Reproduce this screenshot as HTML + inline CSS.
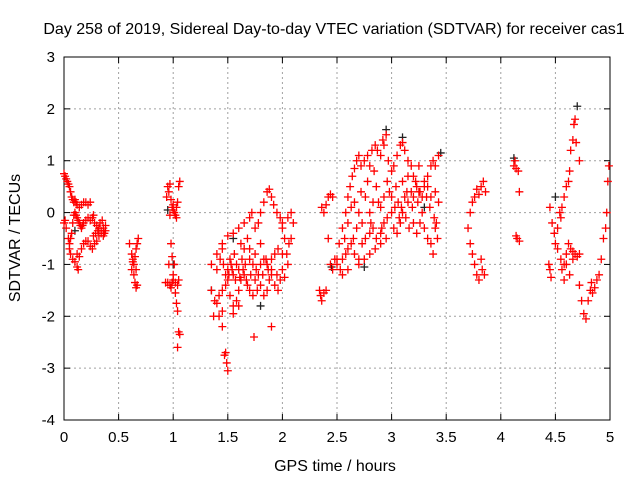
<!DOCTYPE html>
<html><head><meta charset="utf-8"><style>
body{margin:0;background:#fff;}
svg{display:block;font-family:"Liberation Sans",sans-serif;}
</style></head><body>
<svg id="chart" width="640" height="480" viewBox="0 0 640 480" xmlns="http://www.w3.org/2000/svg">
<rect width="640" height="480" fill="#fff"/>
<text x="334" y="34" font-size="16" text-anchor="middle">Day 258 of 2019, Sidereal Day-to-day VTEC variation (SDTVAR) for receiver cas1</text>
<g id="grid"></g>
<g id="axes"></g>
<g id="marks"></g>
<text x="335" y="471" font-size="16" text-anchor="middle">GPS time / hours</text>
<text transform="translate(20,238) rotate(-90)" font-size="16" text-anchor="middle">SDTVAR / TECUs</text>
</svg>
<script>
const xTicks=[0,0.5,1,1.5,2,2.5,3,3.5,4,4.5,5];
const xTickLabels=["0","0.5","1","1.5","2","2.5","3","3.5","4","4.5","5"];
const yTicks=[-4,-3,-2,-1,0,1,2,3];
const yTickLabels=["-4","-3","-2","-1","0","1","2","3"];
const seriesRed=[
[0,0.75],[0.01,0.7],[0.02,0.65],[0.03,0.6],[0.04,0.55],[0.05,0.5],[0.06,0.4],[0.07,0.3],[0.08,0.25],[0.09,0.2],[0.1,0.25],[0.11,0.2],[0.12,0.15],[0.14,0.1],[0.16,0.15],[0.18,0.2],[0.2,0.2],[0.22,0.15],[0.24,0.2],
[0.0,-0.2],[0.01,-0.15],[0.02,-0.3],[0.04,-0.5],[0.05,-0.6],[0.06,-0.5],[0.07,-0.4],[0.08,-0.2],[0.09,-0.05],[0.1,0.0],[0.11,-0.05],[0.12,-0.1],[0.13,-0.15],[0.14,-0.2],[0.15,-0.25],[0.16,-0.3],[0.17,-0.25],[0.18,-0.2],[0.2,-0.15],[0.22,-0.1],[0.24,-0.15],[0.26,-0.1],[0.27,-0.05],[0.28,-0.2],[0.3,-0.25],[0.32,-0.3],[0.34,-0.35],[0.36,-0.3],[0.38,-0.25],
[0.05,-0.7],[0.06,-0.8],[0.08,-0.9],[0.1,-0.95],[0.12,-1.05],[0.14,-0.85],[0.16,-0.7],[0.18,-0.6],[0.2,-0.55],[0.22,-0.55],[0.24,-0.65],[0.26,-0.7],[0.28,-0.6],[0.3,-0.55],[0.32,-0.45],[0.34,-0.4],[0.36,-0.45],[0.38,-0.35],[0.12,-0.8],[0.13,-1.1],
[0.29,-0.4],[0.31,-0.35],[0.33,-0.2],[0.35,-0.15],[0.37,-0.4],[0.27,-0.45],
[0.6,-0.6],[0.62,-0.8],[0.63,-0.9],[0.64,-1.0],[0.65,-0.85],[0.66,-0.7],[0.67,-0.6],[0.68,-0.5],[0.62,-1.1],[0.64,-1.2],[0.65,-1.35],[0.66,-1.45],[0.67,-1.4],[0.66,-1.1],[0.63,-0.95],
[0.94,0.3],[0.95,0.5],[0.96,0.4],[0.97,0.55],[0.98,0.25],[0.99,0.1],[1.0,0.05],[1.01,0.0],[1.02,-0.05],[1.03,0.1],[1.04,0.2],[1.05,0.5],[1.06,0.6],[1.03,-0.1],[1.0,0.15],[0.97,-0.05],
[0.98,-0.6],[0.99,-0.85],[1.0,-1.2],[0.96,-1.0],[0.95,-1.35],[0.97,-1.4],[0.99,-1.35],[1.0,-1.3],[1.02,-1.35],[1.04,-1.4],[1.05,-1.3],[1.02,-1.55],[1.03,-1.75],[1.04,-1.9],[1.05,-2.3],[1.06,-2.35],[1.04,-2.6],[1.01,-1.0],[0.93,-1.35],[0.98,-1.45],
[1.35,-1.0],[1.4,-0.8],[1.45,-0.6],[1.5,-0.45],[1.55,-0.4],[1.6,-0.3],[1.65,-0.2],[1.7,-0.1],[1.72,0.0],[1.75,-0.3],[1.8,-0.6],[1.85,-0.9],[1.9,-1.1],[1.95,-1.2],
[1.7,-0.7],[1.78,-0.2],[1.8,0.0],[1.83,0.2],[1.86,0.4],[1.88,0.45],[1.9,0.3],[1.92,0.15],[1.95,0.0],[1.98,-0.1],[2.0,-0.3],[2.02,-0.5],[2.04,-0.8],[2.05,-1.0],[2.0,-0.2],[2.05,-0.1],[2.08,0.0],[2.1,-0.2],[2.08,-0.5],[2.06,-0.6],
[1.35,-1.5],[1.38,-1.7],[1.4,-1.75],[1.42,-1.6],[1.45,-1.5],[1.48,-1.2],[1.5,-1.3],[1.52,-1.6],[1.55,-1.8],[1.58,-1.7],[1.6,-1.5],[1.62,-1.3],[1.65,-1.2],[1.68,-1.4],[1.7,-1.5],[1.73,-1.6],[1.75,-1.3],[1.78,-1.2],[1.8,-1.4],[1.83,-1.6],[1.86,-1.5],[1.88,-1.3],[1.9,-1.2],[1.93,-1.4],[1.96,-1.5],[1.98,-1.3],[2.0,-1.1],[2.02,-1.25],
[1.4,-1.1],[1.43,-0.9],[1.46,-1.0],[1.5,-1.1],[1.53,-1.0],[1.56,-0.8],[1.58,-1.0],[1.6,-1.1],[1.63,-0.9],[1.66,-1.0],[1.7,-0.9],[1.73,-1.0],[1.76,-1.1],[1.8,-1.0],[1.83,-0.9],[1.86,-1.0],[1.9,-0.9],[1.93,-0.8],[1.96,-0.7],[2.0,-0.8],[1.45,-0.7],[1.55,-1.2],[1.65,-0.7],[1.75,-0.8],
[1.48,-1.4],[1.51,-1.2],[1.54,-1.1],[1.57,-1.3],[1.61,-1.25],[1.64,-1.1],[1.67,-1.3],[1.71,-1.2],[1.77,-1.5],[1.82,-1.2],[1.87,-1.1],[1.52,-0.9],[1.62,-0.6],[1.68,-0.5],
[1.45,-2.2],[1.48,-2.7],[1.49,-2.9],[1.5,-3.05],[1.47,-2.75],[1.42,-2.0],[1.74,-2.4],[1.9,-2.2],[1.45,-1.9],[1.6,-1.8],[1.55,-1.95],[1.37,-2.0],
[2.34,-1.5],[2.35,-1.6],[2.36,-1.7],[2.38,-1.55],[2.4,-1.5],[2.36,0.1],[2.38,0.0],[2.4,0.15],[2.42,0.3],[2.44,0.35],[2.46,0.3],[2.42,-0.5],[2.44,-1.0],[2.46,-1.1],[2.48,-0.9],
[2.5,-0.9],[2.52,-0.6],[2.55,-0.3],[2.58,0.0],[2.6,0.3],[2.62,0.5],[2.64,0.7],[2.66,0.85],[2.68,1.0],[2.7,1.1],[2.72,0.9],[2.75,1.0],[2.78,1.1],[2.8,0.9],[2.82,1.2],[2.85,1.3],[2.87,1.2],[2.9,1.1],[2.92,1.4],[2.95,1.5],[2.93,1.3],[2.97,1.0],[3.0,0.8],[3.02,0.9],[3.05,1.1],[3.08,1.3],[3.1,1.35],[3.12,1.2],[3.15,1.0],[3.18,0.9],[3.2,0.7],[3.22,0.6],[3.25,0.4],[3.28,0.3],[3.3,0.5],[3.33,0.7],[3.36,0.9],[3.38,1.0],[3.4,0.9],[3.43,1.1],
[2.5,-1.0],[2.53,-1.1],[2.55,-0.9],[2.58,-0.8],[2.6,-0.7],[2.63,-0.6],[2.66,-0.8],[2.7,-0.9],[2.73,-0.6],[2.76,-0.5],[2.8,-0.4],[2.83,-0.3],[2.86,-0.5],[2.9,-0.4],[2.93,-0.2],[2.96,-0.1],[3.0,0.0],[3.03,0.1],[3.06,0.2],[3.09,0.1],[3.12,0.3],[3.15,0.2],[3.18,0.4],[3.2,0.3],[3.23,0.5],[3.26,0.4],[3.3,0.6],[3.33,0.5],[3.36,0.3],[3.4,0.4],[3.43,0.2],
[2.6,-0.2],[2.63,0.1],[2.66,0.2],[2.7,0.0],[2.73,-0.2],[2.76,0.3],[2.8,0.0],[2.83,0.2],[2.86,0.5],[2.9,0.1],[2.93,0.3],[2.96,0.6],[3.0,0.3],[3.02,-0.3],[3.05,-0.4],[3.08,-0.2],[3.1,0.0],[3.13,-0.1],[3.16,-0.3],[3.2,-0.2],[3.23,-0.4],[3.26,-0.2],[3.3,-0.3],[3.33,-0.5],[3.36,-0.6],[3.4,-0.3],[3.42,-0.5],[3.38,-0.8],[2.95,-0.5],[2.9,-0.6],[2.85,-0.7],[2.8,-0.8],[2.75,-0.9],[2.7,-1.0],[2.65,-0.5],[2.6,-1.1],[2.55,-1.2],[3.15,0.7],[3.25,0.9],[3.1,0.6],
[2.57,-0.5],[2.68,-0.3],[2.72,0.4],[2.78,0.6],[2.84,0.8],[2.88,0.2],[2.98,0.4],[3.04,0.5],[3.07,-0.1],[3.14,0.4],[3.19,0.1],[3.24,0.2],[3.28,0.0],[3.32,0.3],[3.35,0.1],[3.39,-0.1],[3.41,-0.2],[2.91,-0.3],[2.81,-0.2],
[3.7,-0.3],[3.72,0.0],[3.74,0.2],[3.76,0.3],[3.78,0.45],[3.8,0.35],[3.82,0.5],[3.84,0.6],[3.86,0.4],[3.72,-0.6],[3.74,-0.8],[3.76,-1.0],[3.78,-1.2],[3.8,-1.3],[3.83,-1.1],[3.85,-1.2],[3.82,-0.9],
[4.12,0.9],[4.13,1.0],[4.14,0.85],[4.16,0.8],[4.17,0.4],[4.14,-0.45],[4.15,-0.5],[4.17,-0.55],
[4.44,-1.0],[4.45,-1.1],[4.46,-1.25],[4.45,0.1],[4.47,-0.2],[4.49,-0.4],[4.5,-0.6],[4.52,-0.3],[4.54,0.0],[4.55,-0.1],[4.56,0.1],[4.58,0.3],[4.6,0.5],[4.62,0.6],[4.63,0.8],[4.64,1.2],[4.66,1.4],[4.67,1.7],[4.68,1.8],[4.69,1.35],[4.72,1.0],
[4.52,-0.7],[4.55,-0.9],[4.58,-1.0],[4.6,-0.8],[4.62,-0.6],[4.64,-0.7],[4.66,-0.75],[4.68,-0.8],[4.7,-0.85],[4.72,-0.8],[4.6,-1.0],[4.63,-1.2],[4.66,-0.9],[4.56,-1.1],[4.58,-1.3],
[4.72,-1.4],[4.74,-1.7],[4.76,-1.95],[4.78,-2.05],[4.8,-1.7],[4.82,-1.5],[4.84,-1.55],[4.86,-1.45],[4.88,-1.3],[4.9,-1.2],[4.92,-0.9],[4.94,-0.5],[4.96,-0.3],[4.97,0.0],[4.98,0.6],[4.99,0.9],[4.83,-1.35]
];
const seriesBlack=[[4.7,2.05],[2.95,1.6],[3.1,1.45],[3.45,1.15],[0.95,0.05],[1.0,-1.0],[1.55,-0.5],[1.8,-1.8],[2.45,-1.05],[2.75,-1.05],[4.12,1.05],[4.5,0.3],[0.1,-0.35],[1.35,-1.5],[3.3,0.1]];

const NS="http://www.w3.org/2000/svg";
const L=64,R=610,T=57,B=420;
const xMin=0,xMax=5,yMin=-4,yMax=3;
function sx(v){return L+(v-xMin)/(xMax-xMin)*(R-L);}
function sy(v){return B-(v-yMin)/(yMax-yMin)*(B-T);}
function mk(tag,attrs,parent){const e=document.createElementNS(NS,tag);for(const k in attrs)e.setAttribute(k,attrs[k]);parent.appendChild(e);return e;}
const grid=document.getElementById('grid'),axes=document.getElementById('axes'),marks=document.getElementById('marks');
xTicks.forEach((t,i)=>{
  const x=sx(t);
  if(i>0&&i<xTicks.length-1){const g=mk('line',{x1:x,x2:x,y1:T,y2:B,stroke:'#a0a0a0','stroke-dasharray':'2,3'},grid);
  
  }
  mk('line',{x1:x,x2:x,y1:B,y2:B-6,stroke:'#000'},axes);
  mk('line',{x1:x,x2:x,y1:T,y2:T+6,stroke:'#000'},axes);
  const lb=mk('text',{x:x,y:B+22,'font-size':15,'text-anchor':'middle'},axes);
  lb.textContent=xTickLabels[i];
  
  
});
yTicks.forEach((t,i)=>{
  const y=sy(t);
  if(i>0&&i<yTicks.length-1){const g=mk('line',{x1:L,x2:R,y1:y,y2:y,stroke:'#a0a0a0','stroke-dasharray':'2,3'},grid);
  
  }
  mk('line',{x1:L,x2:L+6,y1:y,y2:y,stroke:'#000'},axes);
  mk('line',{x1:R,x2:R-6,y1:y,y2:y,stroke:'#000'},axes);
  const lb=mk('text',{x:L-9,y:y+5,'font-size':15,'text-anchor':'end'},axes);
  lb.textContent=yTickLabels[i];
  
  
});
const border=mk('rect',{x:L,y:T,width:R-L,height:B-T,fill:'none',stroke:'#000','stroke-width':1},axes);


function plus(p,color){
  const x=sx(p[0]),y=sy(p[1]);
  const e=mk('path',{d:`M${x-4},${y}H${x+4}M${x},${y-4}V${y+4}`,stroke:color,'stroke-width':1.3,fill:'none'},marks);
  
  
}
seriesBlack.forEach(p=>plus(p,'#222'));
seriesRed.forEach(p=>plus(p,'#ff0000'));
</script>
</body></html>
